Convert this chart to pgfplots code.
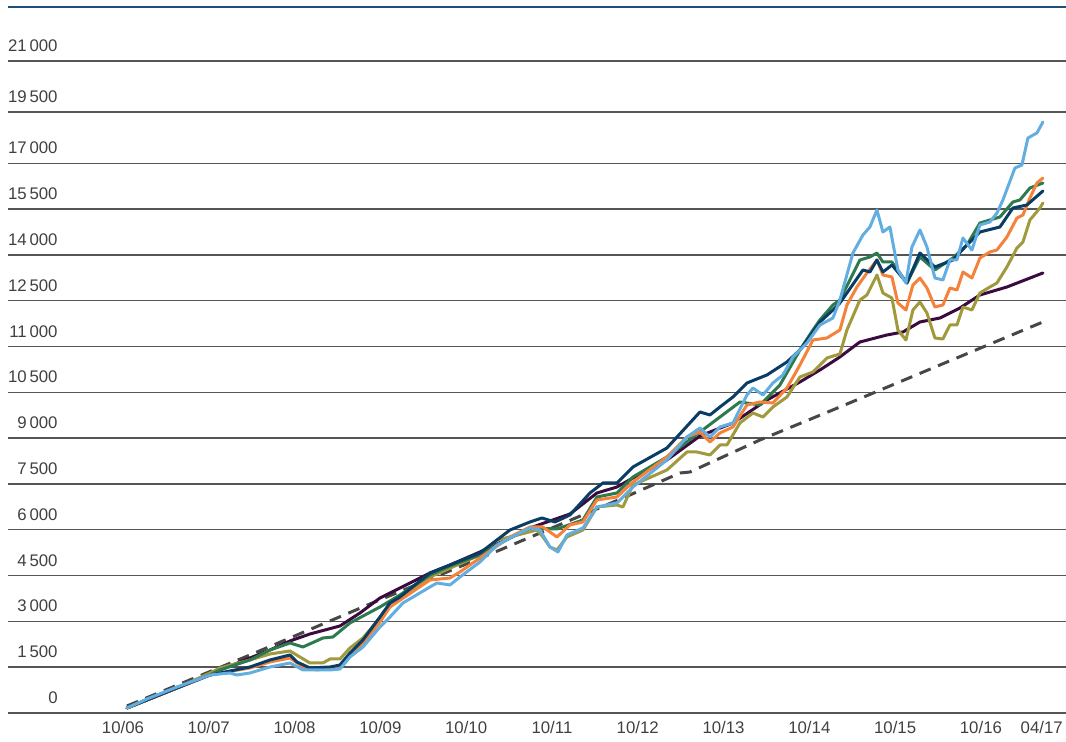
\documentclass[border=0pt]{standalone}
\usepackage{pgfplots}
\usepackage{pgfplotstable}
\pgfplotsset{compat=1.18}
\usepackage{fontspec}
\setmainfont{Liberation Sans}
\definecolor{titleblue}{HTML}{1D4F7A}
\definecolor{gridgray}{HTML}{555555}
\definecolor{labelgray}{HTML}{404040}
\definecolor{cdash}{HTML}{474747}
\definecolor{cpurple}{HTML}{3B0B3F}
\definecolor{colive}{HTML}{A09A3C}
\definecolor{cgreen}{HTML}{2D7A4E}
\definecolor{corange}{HTML}{F5823A}
\definecolor{cnavy}{HTML}{0A3D66}
\definecolor{clblue}{HTML}{62AEE0}

% readings: column 0 = horizontal position (px), column 1 = vertical position (px from top)
\pgfplotstableread{
x y
127 706
250 655
370 604
500 550
630 495
680 473
690 472
760 440
840 407
940 365
1043 322
}\tdash
\pgfplotstableread{
x y
127 708
147 700
177 688
210 674
240 662
270 650
290 641
310 634
340 626
360 613
380 598
400 588
430 573
450 565
480 552
510 538
530 528
550 521
570 514
597 493
617 487
633 478
667 460
700 436
733 423
767 400
800 382
820 370
840 357
860 342
887 335
903 332
920 322
940 318
960 308
980 295
1007 287
1025 280
1043 273
}\tpurple
\pgfplotstableread{
x y
127 708
147 700
177 688
210 673
220 668
250 660
270 654
290 651
310 663
323 663
330 659
340 659
350 648
363 638
380 618
390 605
430 577
480 555
497 540
510 537
537 530
543 537
550 547
557 550
567 537
583 530
597 507
617 505
623 507
633 485
667 470
687 452
697 452
710 455
720 445
727 445
740 423
753 413
763 417
773 407
787 397
800 377
813 372
827 358
840 354
847 330
860 300
867 295
877 275
883 293
892 298
898 330
906 340
913 310
920 302
927 313
935 338
943 339
950 325
957 325
963 307
972 310
980 293
990 287
997 283
1007 267
1017 248
1023 242
1030 220
1040 208
1043 203
}\tolive
\pgfplotstableread{
x y
127 708
147 700
177 688
210 675
220 670
250 660
270 650
290 643
303 647
323 638
333 637
350 623
380 607
400 595
430 575
450 566
480 555
510 538
530 528
557 529
583 520
597 497
617 493
633 477
667 457
700 432
740 402
760 405
780 385
800 350
813 330
820 320
833 305
840 300
860 260
870 257
877 253
883 262
892 262
907 283
920 257
935 270
953 258
967 245
980 223
1000 217
1013 202
1020 200
1030 188
1043 183
}\tgreen
\pgfplotstableread{
x y
127 708
147 700
177 688
210 675
220 673
250 668
270 662
290 658
303 667
317 670
330 668
340 667
350 655
363 643
380 622
390 607
430 580
450 578
460 572
480 558
510 537
530 527
543 527
557 537
570 525
583 522
597 500
617 497
633 482
667 457
687 437
700 432
710 442
720 433
733 427
747 405
760 402
773 403
787 388
800 365
813 340
827 338
840 330
847 305
857 287
867 273
877 260
883 275
892 277
898 303
906 310
913 285
920 278
927 288
935 307
943 305
950 288
957 290
963 272
972 278
980 258
990 252
997 250
1007 237
1017 218
1023 215
1030 198
1037 183
1043 178
}\torange
\pgfplotstableread{
x y
127 708
147 700
177 688
210 675
220 673
250 667
270 660
290 655
297 662
310 668
330 667
340 665
350 653
363 640
380 617
390 603
400 597
430 573
450 565
480 553
510 530
530 522
542 518
555 522
570 515
590 493
603 483
617 483
633 467
667 448
700 412
710 415
720 407
733 397
747 383
767 375
787 362
800 350
813 332
820 322
833 310
840 303
863 270
870 272
877 260
883 272
892 265
907 283
920 253
935 267
953 260
967 245
980 232
1000 227
1013 208
1027 205
1043 191
}\tnavy
\pgfplotstableread{
x y
127 708
147 699
177 687
210 675
230 673
237 675
250 673
270 667
290 663
303 670
317 670
330 670
340 669
350 657
363 647
380 627
390 617
403 603
430 587
437 583
450 585
460 577
480 562
497 545
510 538
530 528
540 530
550 547
558 552
567 535
583 528
597 507
617 503
633 487
667 460
687 437
700 428
710 437
720 427
733 423
747 395
753 388
763 395
773 383
783 375
793 357
807 343
820 325
833 318
840 300
853 253
863 235
870 227
877 210
883 232
890 227
898 270
906 283
912 247
920 230
927 247
935 278
943 280
950 260
957 260
963 238
972 250
980 225
990 222
997 213
1003 200
1015 168
1022 165
1028 138
1037 133
1043 122
}\tlblue

\begin{document}
\begin{tikzpicture}[x=1pt,y=1pt]
\path[use as bounding box] (0,0) rectangle (533,371);
\draw[color=titleblue, line width=1.1pt] (4,367.6) -- (533,367.6);
\begin{axis}[
  at={(4pt,14.5pt)}, anchor=south west,
  scale only axis, width=529pt, height=326pt,
  xmin=-16.08, xmax=131.9, ymin=0, ymax=21353,
  axis line style={draw=none}, tick style={draw=none},
  scaled y ticks=false, scaled x ticks=false,
  ymajorgrids, grid style={color=gridgray, line width=0.7pt},
  ytick={0,1500,3000,4500,6000,7500,9000,10500,12000,13500,15000,16500,18000,19680,21353},
  yticklabels={0,1\,500,3\,000,4\,500,6\,000,7\,500,9\,000,10\,500,11\,000,12\,500,14\,000,15\,500,17\,000,19\,500,21\,000},
  xtick={0,12,24,36,48,60,72,84,96,108,120,128.5},
  xticklabels={10/06,10/07,10/08,10/09,10/10,10/11,10/12,10/13,10/14,10/15,10/16,04/17},
  yticklabel style={anchor=south east, inner sep=0pt, xshift=25pt, yshift=4.5pt, text=labelgray, font=\fontsize{8.4}{10}\selectfont},
  xticklabel style={anchor=north, inner sep=0pt, yshift=-4pt, text=labelgray, font=\fontsize{8.4}{10}\selectfont},
  every axis plot/.append style={line width=1.5pt, line join=round, line cap=round, mark=none},
  clip=false,
]
\addplot[cdash, dash pattern=on 6pt off 4pt, line cap=butt] table[x expr={(\thisrowno{0}-123)/7.15}, y expr={(713-\thisrowno{1})*32.75}] {\tdash};
\addplot[cpurple] table[x expr={(\thisrowno{0}-123)/7.15}, y expr={(713-\thisrowno{1})*32.75}] {\tpurple};
\addplot[colive] table[x expr={(\thisrowno{0}-123)/7.15}, y expr={(713-\thisrowno{1})*32.75}] {\tolive};
\addplot[cgreen] table[x expr={(\thisrowno{0}-123)/7.15}, y expr={(713-\thisrowno{1})*32.75}] {\tgreen};
\addplot[corange] table[x expr={(\thisrowno{0}-123)/7.15}, y expr={(713-\thisrowno{1})*32.75}] {\torange};
\addplot[cnavy] table[x expr={(\thisrowno{0}-123)/7.15}, y expr={(713-\thisrowno{1})*32.75}] {\tnavy};
\addplot[clblue] table[x expr={(\thisrowno{0}-123)/7.15}, y expr={(713-\thisrowno{1})*32.75}] {\tlblue};
\end{axis}
\end{tikzpicture}
\end{document}
